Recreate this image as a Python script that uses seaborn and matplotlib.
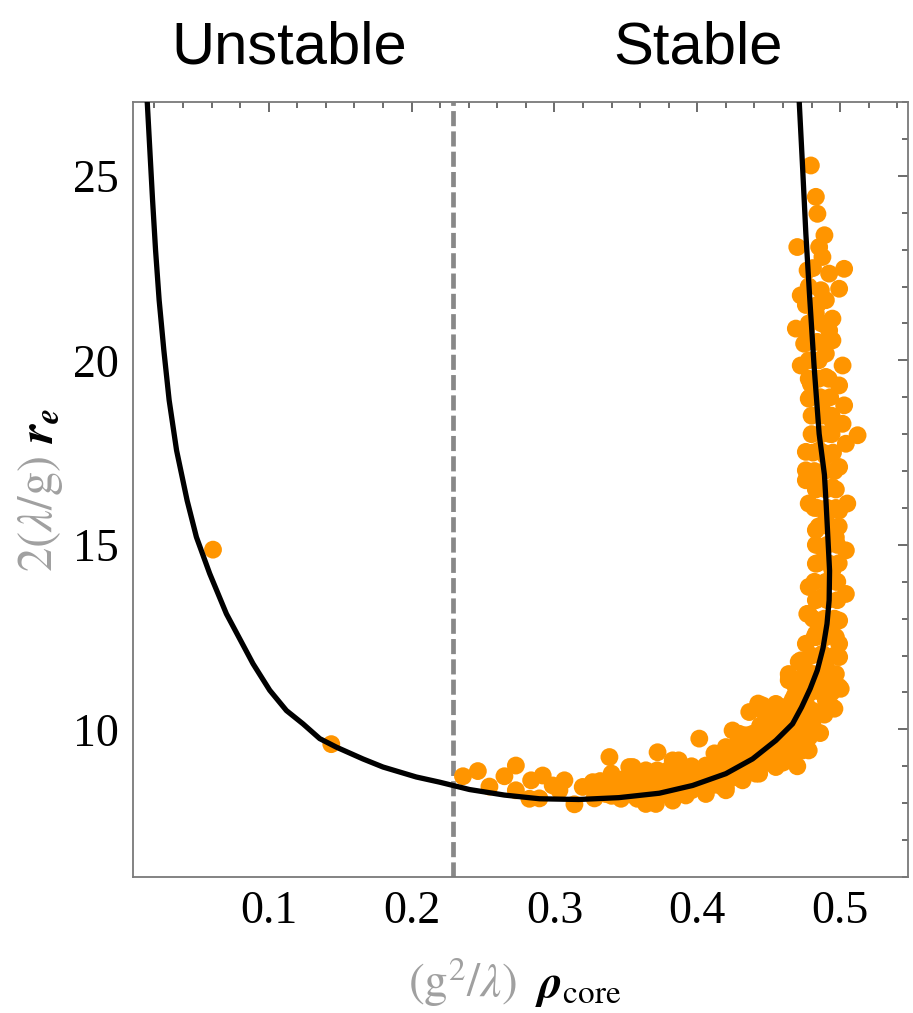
import matplotlib
matplotlib.use("Agg")
import matplotlib.pyplot as plt
import seaborn as sns
import pandas as pd
from matplotlib.ticker import MultipleLocator

# ---------------- data ----------------
curve_x = [0.0149, 0.0168, 0.0187, 0.0208, 0.0233, 0.0266, 0.0303, 0.0355, 0.0429,
           0.0494, 0.0587, 0.0704, 0.0890, 0.1007, 0.1124, 0.1240, 0.1357, 0.1473,
           0.1659, 0.1800, 0.2033, 0.2196, 0.2406, 0.2650, 0.2895, 0.3170, 0.3450,
           0.3734, 0.3967, 0.4200, 0.4387, 0.4550, 0.4667, 0.4730, 0.4790, 0.4840,
           0.4880, 0.4908, 0.4923, 0.4926, 0.4914, 0.4902, 0.4890, 0.4853, 0.4818,
           0.4788, 0.4760, 0.4737, 0.4713]
curve_y = [27.05, 25.69, 24.34, 22.98, 21.63, 20.27, 18.92, 17.56, 16.2,
           15.21, 14.22, 13.13, 11.78, 11.06, 10.51, 10.15, 9.75, 9.52,
           9.2, 8.98, 8.71, 8.57, 8.37, 8.22, 8.12, 8.10, 8.15,
           8.27, 8.48, 8.80, 9.20, 9.70, 10.15, 10.6, 11.1, 11.6,
           12.2, 12.86, 13.5, 14.3, 15.21, 16.11, 16.9, 18.01, 19.82,
           21.63, 23.43, 25.24, 27.05]

pts_x = [0.061, 0.1438, 0.236, 0.2464, 0.2545, 0.265, 0.273, 0.273, 0.2837, 0.2825,
         0.2895, 0.2918, 0.2988, 0.307, 0.3035, 0.314, 0.3198, 0.3268, 0.328, 0.3385,
         0.336, 0.343, 0.3466, 0.3524, 0.351, 0.3594, 0.358, 0.3685, 0.3722, 0.371,
         0.372, 0.3804, 0.3828, 0.3828, 0.4014, 0.387, 0.392, 0.3967, 0.406, 0.4177,
         0.42, 0.4247, 0.4294, 0.434, 0.441, 0.448, 0.4364, 0.4457, 0.4527, 0.455,
         0.441, 0.4247, 0.4177, 0.413, 0.406, 0.42, 0.392, 0.4014, 0.4642, 0.4736,
         0.4783, 0.4806, 0.4666, 0.469, 0.483, 0.496, 0.5004, 0.4946, 0.464, 0.372,
         0.3804, 0.364, 0.364, 0.35, 0.3548, 0.4426, 0.4496, 0.4642, 0.471, 0.478,
         0.476, 0.483, 0.4806, 0.4946, 0.478, 0.4667, 0.4433, 0.4317, 0.42, 0.4294,
         0.378, 0.3967, 0.4154, 0.4387, 0.4503, 0.462, 0.4713, 0.4806, 0.49, 0.49,
         0.4946, 0.4806, 0.4713,
         0.476, 0.478, 0.505, 0.483, 0.504, 0.483, 0.478, 0.504, 0.477, 0.4993,
         0.483, 0.4993, 0.4724, 0.4993, 0.464, 0.4993, 0.469, 0.4457, 0.455,
         0.4946, 0.4993, 0.49, 0.4946, 0.4876, 0.4923, 0.4876, 0.483,
         0.4795, 0.483, 0.4841, 0.489, 0.47, 0.4853, 0.4876, 0.4772, 0.4923, 0.5028,
         0.4993, 0.4724, 0.4865, 0.49, 0.469, 0.476, 0.4946, 0.4923, 0.4748, 0.4724,
         0.5017, 0.49, 0.4993, 0.4795, 0.478, 0.5028, 0.5017, 0.5122, 0.476, 0.504,
         0.476, 0.4993, 0.4876, 0.4923, 0.4853, 0.49, 0.483, 0.4946,
         0.485, 0.49, 0.495, 0.497, 0.488, 0.482, 0.498, 0.486, 0.4925, 0.489,
         0.486, 0.475, 0.468, 0.458, 0.46, 0.45, 0.47,
         # dense lower band
         0.332, 0.332, 0.340, 0.340, 0.340, 0.348, 0.348, 0.356, 0.356, 0.356,
         0.364, 0.364, 0.372, 0.372, 0.372, 0.380, 0.380, 0.380, 0.388, 0.388,
         0.388, 0.396, 0.396, 0.396, 0.404, 0.404, 0.404, 0.412, 0.412, 0.412,
         0.412, 0.420, 0.420, 0.420, 0.428, 0.428, 0.428, 0.428, 0.436, 0.436,
         0.436, 0.436, 0.444, 0.444, 0.444, 0.444, 0.452, 0.452, 0.452, 0.452,
         0.460, 0.460, 0.460, 0.460, 0.460, 0.468, 0.468, 0.468, 0.468, 0.468,
         0.476, 0.476, 0.476, 0.476, 0.476, 0.476,
         # dense vertical band
         0.479, 0.487, 0.494, 0.481, 0.489, 0.497, 0.480, 0.488, 0.496, 0.482,
         0.490, 0.497, 0.481, 0.489, 0.496, 0.483, 0.491, 0.498, 0.482, 0.490,
         0.497, 0.484, 0.492, 0.499, 0.483, 0.491, 0.498, 0.485, 0.492, 0.499,
         0.484, 0.491, 0.497, 0.483, 0.490, 0.497, 0.482, 0.489, 0.496, 0.481,
         0.488, 0.495, 0.480, 0.487, 0.494, 0.480, 0.487, 0.494, 0.479, 0.486,
         0.493, 0.478, 0.485, 0.492, 0.478, 0.485, 0.477, 0.484, 0.478, 0.487,
         0.476, 0.484, 0.478, 0.481]
pts_y = [14.87, 9.6, 8.73, 8.87, 8.45, 8.73, 9.02, 8.35, 8.62, 8.12,
         8.13, 8.75, 8.48, 8.62, 8.35, 7.97, 8.44, 8.57, 8.13, 9.25,
         8.25, 8.53, 8.12, 8.98, 8.54, 8.8, 8.12, 8.35, 9.38, 7.98,
         8.89, 8.71, 9.16, 8.07, 9.75, 9.16, 8.93, 8.62, 9.02, 9.16,
         9.52, 9.97, 9.34, 9.84, 9.79, 9.88, 10.47, 10.65, 10.42, 8.98,
         8.8, 8.71, 8.44, 8.62, 8.25, 8.35, 8.21, 8.44, 9.25, 9.43,
         9.79, 10.15, 10.79, 11.15, 11.06, 10.56, 11.1, 11.33, 11.33, 8.35,
         8.62, 8.89, 7.98, 8.35, 8.98, 10.7, 10.43, 11.42, 11.83, 13.13,
         12.32, 12.59, 11.06, 10.6, 9.43, 9.25, 8.8, 8.62, 8.44, 9.88,
         8.8, 8.8, 9.25, 9.88, 9.52, 9.6, 9.88, 10.51, 10.79, 11.69,
         12.59, 11.42, 11.33,
         16.75, 16.12, 16.12, 15.4, 14.85, 14.49, 13.86, 13.67, 13.13, 12.95,
         12.5, 12.32, 11.87, 11.96, 11.5, 11.15, 11.15, 10.51, 10.69,
         16.56, 15.93, 15.66, 14.31, 13.59, 12.95, 12.05, 11.42,
         25.28, 24.43, 23.97, 23.39, 23.07, 23.07, 22.8, 22.44, 22.35, 22.48,
         21.94, 21.76, 21.9, 21.63, 20.86, 20.81, 21.13, 20.81, 20.45, 19.86,
         19.86, 20.18, 19.32, 19.36, 18.96, 18.78, 18.28, 17.97, 17.52, 17.74,
         17.02, 17.11, 18.65, 18.01, 17.56, 19.55, 21.27, 20.54,
         16.9, 17.4, 18.3, 15.2, 14.9, 16.0, 14.0, 12.9, 11.2, 10.4,
         9.9, 10.2, 9.95, 10.0, 9.1, 9.1, 9.0,
         # dense lower band
         8.3, 8.6, 8.2, 8.45, 8.8, 8.3, 8.65, 8.2, 8.5, 8.75,
         8.3, 8.6, 8.15, 8.5, 8.75, 8.3, 8.5, 8.9, 8.25, 8.55,
         8.8, 8.35, 8.7, 9.0, 8.4, 8.65, 8.9, 8.5, 8.8, 9.1,
         9.35, 8.6, 9.0, 9.3, 8.7, 9.0, 9.2, 9.6, 8.9, 9.15,
         9.45, 9.7, 9.0, 9.3, 9.55, 10.1, 9.2, 9.45, 9.75, 10.2,
         9.35, 9.6, 9.9, 10.3, 10.6, 9.5, 9.8, 10.05, 10.4, 10.9,
         9.7, 10.0, 10.3, 10.7, 11.2, 11.6,
         # dense vertical band
         11.0, 11.0, 11.0, 11.5, 11.5, 11.5, 12.0, 12.0, 12.0, 12.5,
         12.5, 12.5, 13.0, 13.0, 13.0, 13.5, 13.5, 13.5, 14.0, 14.0,
         14.0, 14.5, 14.5, 14.5, 15.0, 15.0, 15.0, 15.5, 15.5, 15.5,
         16.0, 16.0, 16.0, 16.5, 16.5, 16.5, 17.0, 17.0, 17.0, 17.5,
         17.5, 17.5, 18.0, 18.0, 18.0, 18.5, 18.5, 18.5, 19.0, 19.0,
         19.0, 19.5, 19.5, 19.5, 20.0, 20.0, 20.5, 20.5, 21.0, 21.0,
         21.5, 21.5, 22.0, 22.5]

critical_x = 0.229
x_ticks = [0.1, 0.2, 0.3, 0.4, 0.5]
y_ticks = [10, 15, 20, 25]
x_range = (0.005, 0.5475)
y_range = (6.0, 27.0)

# ---------------- style ----------------
sns.set_style("white")
plt.rcParams["font.family"] = ["Liberation Serif", "DejaVu Serif"]
plt.rcParams["mathtext.fontset"] = "stix"

W, H = 913, 1013
fig = plt.figure(figsize=(W / 100, H / 100), dpi=100)
ax = fig.add_axes([133 / W, 1 - 877 / H, (908 - 133) / W, (877 - 102) / H])

orange = "#FF9500"
frame_gray = "#7a7a7a"
label_gray = "#a0a0a0"

ax.axvline(critical_x, color="#888888", lw=3.4, dashes=(3.2, 1.1), zorder=1)

pts = pd.DataFrame({"x": pts_x, "y": pts_y})
sns.scatterplot(data=pts, x="x", y="y", ax=ax, color=orange, s=165,
                edgecolor="none", linewidth=0, zorder=2, legend=False)

curve = pd.DataFrame({"x": curve_x, "y": curve_y})
sns.lineplot(data=curve, x="x", y="y", ax=ax, sort=False, estimator=None,
             color="black", lw=3.8, zorder=3)

ax.set_xlim(*x_range)
ax.set_ylim(*y_range)
ax.set_xticks(x_ticks)
ax.set_xticklabels([f"{v:.1f}" for v in x_ticks])
ax.set_yticks(y_ticks)
ax.set_yticklabels([str(v) for v in y_ticks])
ax.xaxis.set_minor_locator(MultipleLocator(0.02))
ax.yaxis.set_minor_locator(MultipleLocator(1))
ax.tick_params(which="both", direction="in", top=True, right=True,
               color="#444444", width=1.1, labelsize=33, labelcolor="black")
ax.tick_params(which="major", length=7, pad=10)
ax.tick_params(which="minor", length=4)
for sp in ax.spines.values():
    sp.set_color(frame_gray)
    sp.set_linewidth(1.3)
ax.set_xlabel("")
ax.set_ylabel("")

# two-colour axis labels
def fx(px):
    return px / W

def fy(py):
    return 1 - py / H

fig.text(fx(517), fy(997), r"$(\mathrm{g}^2/\lambda)$", color=label_gray,
         fontsize=34, ha="right", va="baseline")
fig.text(fx(535), fy(997), r"$\boldsymbol{\rho}_{\mathrm{core}}$", color="black",
         fontsize=34, ha="left", va="baseline")

fig.text(fx(52), fy(456), r"$2(\lambda/\mathrm{g})$", color=label_gray, fontsize=35,
         rotation=90, rotation_mode="anchor", ha="right", va="baseline")
fig.text(fx(52), fy(444), r"$\boldsymbol{r}_{\boldsymbol{e}}$", color="black", fontsize=35,
         rotation=90, rotation_mode="anchor", ha="left", va="baseline")

# region titles
fig.text(fx(289), fy(64), "Unstable", fontsize=43, family="Liberation Sans",
         ha="center", va="baseline", color="black")
fig.text(fx(698), fy(64), "Stable", fontsize=43, family="Liberation Sans",
         ha="center", va="baseline", color="black")

fig.savefig("out.png", dpi=100)
